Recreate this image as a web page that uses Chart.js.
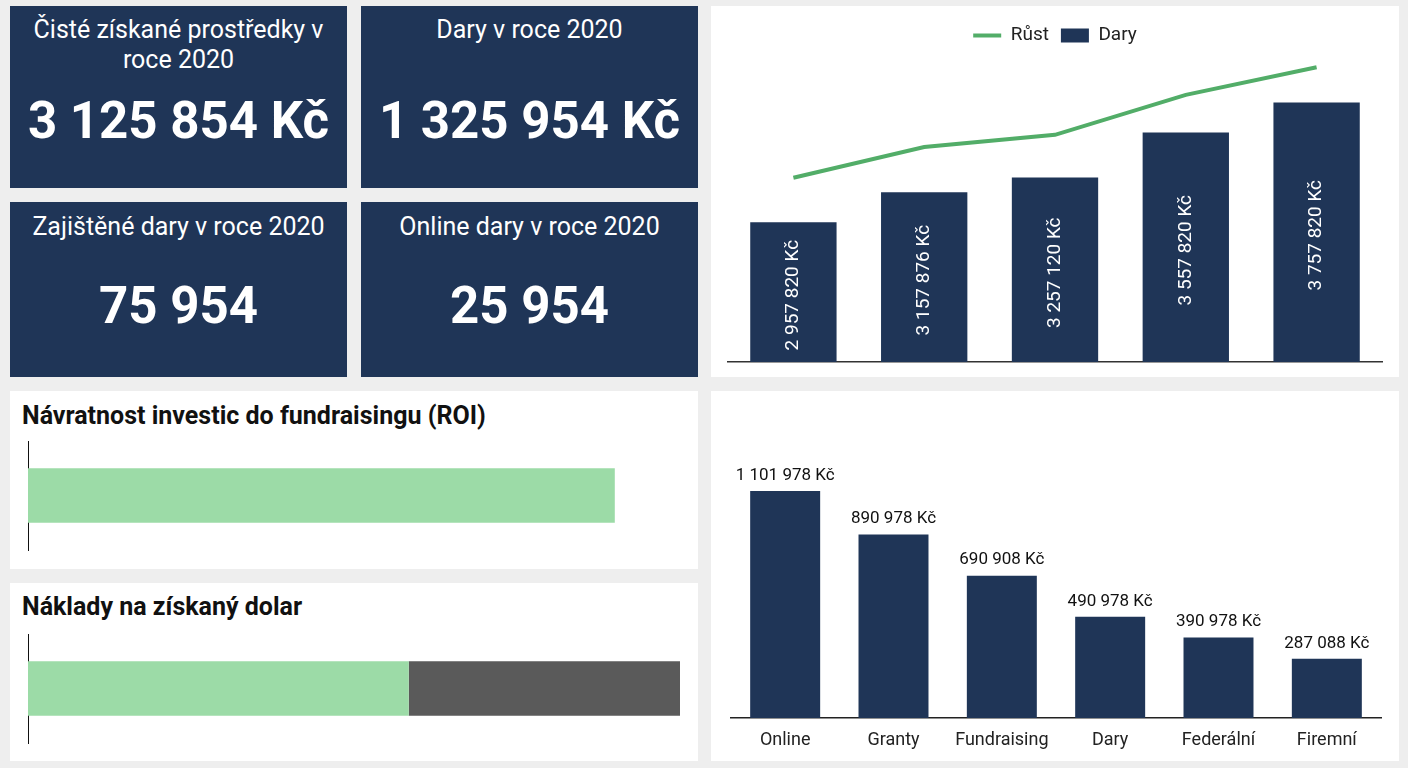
<!DOCTYPE html>
<html lang="cs">
<head>
<meta charset="utf-8">
<title>Fundraising 2020</title>
<script src="https://cdn.jsdelivr.net/npm/chart.js@4.4.1/dist/chart.umd.min.js"></script>
<style>
  html, body { margin: 0; padding: 0; }
  body { width: 1408px; height: 768px; background: #eeeeee; position: relative; overflow: hidden; font-family: Roboto, "Noto Sans", sans-serif; }
  .tile { position: absolute; background: #1f3557; color: #fff; text-align: center; }
  .tile .t { position: absolute; left: 0; right: 0; font-size: 25px; line-height: 30px; }
  .tile .v { position: absolute; left: 0; right: 0; font-size: 51px; font-weight: 700; line-height: 60px; }
  .panel { position: absolute; background: #fff; }
  .panel h2 { position: absolute; left: 12px; margin: 0; font-size: 25px; line-height: 30px; font-weight: 700; color: #111; }
  .cw { position: absolute; left: 0; }
</style>
</head>
<body>

<div class="tile" style="left:10px;top:6px;width:337px;height:182px">
  <div class="t" style="top:9px">Čisté získané prostředky v<br>roce 2020</div>
  <div class="v" style="top:85px">3 125 854 Kč</div>
</div>
<div class="tile" style="left:361px;top:6px;width:337px;height:182px">
  <div class="t" style="top:9px">Dary v roce 2020</div>
  <div class="v" style="top:85px">1 325 954 Kč</div>
</div>
<div class="tile" style="left:10px;top:202px;width:337px;height:175px">
  <div class="t" style="top:10px">Zajištěné dary v roce 2020</div>
  <div class="v" style="top:74px">75 954</div>
</div>
<div class="tile" style="left:361px;top:202px;width:337px;height:175px">
  <div class="t" style="top:10px">Online dary v roce 2020</div>
  <div class="v" style="top:74px">25 954</div>
</div>

<div class="panel" style="left:711px;top:6px;width:688px;height:371px">
  <div class="cw" style="top:0;width:688px;height:371px"><canvas id="trend"></canvas></div>
</div>

<div class="panel" style="left:10px;top:391px;width:688px;height:178px">
  <h2 style="top:10px">Návratnost investic do fundraisingu (ROI)</h2>
  <div class="cw" style="top:40px;width:688px;height:130px"><canvas id="roi"></canvas></div>
</div>

<div class="panel" style="left:10px;top:583px;width:688px;height:178px">
  <h2 style="top:9px">Náklady na získaný dolar</h2>
  <div class="cw" style="top:41px;width:688px;height:130px"><canvas id="cost"></canvas></div>
</div>

<div class="panel" style="left:711px;top:391px;width:688px;height:370px">
  <div class="cw" style="top:0;width:688px;height:370px"><canvas id="sources"></canvas></div>
</div>

<script>
const NAVY = "#1f3557";
const GREEN_LINE = "#52ad68";
const GREEN_BAR = "#9cdba7";
const GRAY_BAR = "#5a5a5a";

// top right: donations per year + growth line
const YEARS = ["2016", "2017", "2018", "2019", "2020"];
const DARY = [2957820, 3157876, 3257120, 3557820, 3757820];
const RUST = [60, 70, 74, 87, 96];

// bottom right: donations by source
const SOURCES = ["Online", "Granty", "Fundraising", "Dary", "Federální", "Firemní"];
const SOURCE_VALUES = [1101978, 890978, 690908, 490978, 390978, 287088];

// bottom left: progress bars
const ROI = [0.9];
const COST_SPENT = [0.584];
const COST_REST = [0.416];

Chart.defaults.font.family = "Roboto, 'Noto Sans', sans-serif";
Chart.defaults.color = "#222";

function fmt(v) {
  return String(v).replace(/\B(?=(\d{3})+(?!\d))/g, " ") + " Kč";
}

const insideLabels = {
  id: "insideLabels",
  afterDatasetsDraw(chart) {
    const ctx = chart.ctx;
    const idx = chart.data.datasets.findIndex((d) => d.type === "bar");
    const meta = chart.getDatasetMeta(idx);
    const bottom = chart.chartArea.bottom;
    ctx.save();
    ctx.fillStyle = "#fff";
    ctx.font = "19px Roboto";
    ctx.textAlign = "center";
    ctx.textBaseline = "middle";
    meta.data.forEach((bar, i) => {
      ctx.save();
      ctx.translate(bar.x, (bar.y + Math.min(bar.base, bottom)) / 2 + 3);
      ctx.rotate(-Math.PI / 2);
      ctx.fillText(fmt(chart.data.datasets[idx].data[i]), 0, 0);
      ctx.restore();
    });
    ctx.restore();
  },
};

const topLabels = {
  id: "topLabels",
  afterDatasetsDraw(chart) {
    const ctx = chart.ctx;
    const meta = chart.getDatasetMeta(0);
    ctx.save();
    ctx.fillStyle = "#111";
    ctx.font = "17px Roboto";
    ctx.textAlign = "center";
    ctx.textBaseline = "bottom";
    meta.data.forEach((bar, i) => {
      ctx.fillText(fmt(chart.data.datasets[0].data[i]), bar.x, bar.y - 7);
    });
    ctx.restore();
  },
};

new Chart(document.getElementById("trend"), {
  data: {
    labels: YEARS,
    datasets: [
      { type: "line", label: "Růst", data: RUST, yAxisID: "y1", borderColor: GREEN_LINE, backgroundColor: GREEN_LINE,
        borderWidth: 4, pointRadius: 0, tension: 0 },
      { type: "bar", label: "Dary", data: DARY, yAxisID: "y", backgroundColor: NAVY,
        barPercentage: 0.66, categoryPercentage: 1 },
    ],
  },
  options: {
    responsive: true, maintainAspectRatio: false, animation: false,
    layout: { padding: { left: 17, right: 17, top: 8, bottom: 15 } },
    scales: {
      x: { grid: { display: false, drawTicks: false }, ticks: { display: false },
           border: { display: true, color: "#333", width: 1.5 } },
      y: { display: false, min: 2025000, max: 4075000 },
      y1: { display: false, min: 0, max: 100 },
    },
    plugins: {
      tooltip: { enabled: false },
      legend: {
        labels: {
          font: { size: 19 }, color: "#222", usePointStyle: true, pointStyleWidth: 28, boxHeight: 14, padding: 12,
          generateLabels(chart) {
            return Chart.defaults.plugins.legend.labels.generateLabels(chart).map((it, i) => {
              if (i === 0) {
                it.pointStyle = "line"; it.strokeStyle = GREEN_LINE; it.lineWidth = 4;
              } else {
                it.pointStyle = "rect"; it.fillStyle = NAVY; it.strokeStyle = NAVY; it.lineWidth = 0;
              }
              return it;
            });
          },
        },
      },
    },
  },
  plugins: [insideLabels],
});

function progressChart(id, datasets) {
  return new Chart(document.getElementById(id), {
    type: "bar",
    data: { labels: [""], datasets: datasets },
    options: {
      indexAxis: "y", responsive: true, maintainAspectRatio: false, animation: false,
      layout: { padding: { left: 18, right: 18, top: 10, bottom: 11 } },
      scales: {
        x: { display: false, stacked: true, min: 0, max: 1 },
        y: { stacked: true, grid: { display: false, drawTicks: false }, ticks: { display: false },
             border: { display: true, color: "#111", width: 1 } },
      },
      plugins: { legend: { display: false }, tooltip: { enabled: false } },
    },
  });
}

progressChart("roi", [
  { data: ROI, backgroundColor: GREEN_BAR, barPercentage: 0.5, categoryPercentage: 1 },
]);
progressChart("cost", [
  { data: COST_SPENT, backgroundColor: GREEN_BAR, barPercentage: 0.5, categoryPercentage: 1 },
  { data: COST_REST, backgroundColor: GRAY_BAR, barPercentage: 0.5, categoryPercentage: 1 },
]);

new Chart(document.getElementById("sources"), {
  type: "bar",
  data: {
    labels: SOURCES,
    datasets: [{ data: SOURCE_VALUES, backgroundColor: NAVY, barPercentage: 0.646, categoryPercentage: 1 }],
  },
  options: {
    responsive: true, maintainAspectRatio: false, animation: false,
    layout: { padding: { left: 20, right: 18, top: 18, bottom: 0 } },
    scales: {
      x: { grid: { display: false, drawTicks: false }, ticks: { font: { size: 18 }, color: "#222", padding: 12 },
           border: { display: true, color: "#222", width: 1.5 },
           afterFit(scale) { scale.height = 43; } },
      y: { display: false, min: 0, max: 1500000 },
    },
    plugins: { legend: { display: false }, tooltip: { enabled: false } },
  },
  plugins: [topLabels],
});
</script>
</body>
</html>
